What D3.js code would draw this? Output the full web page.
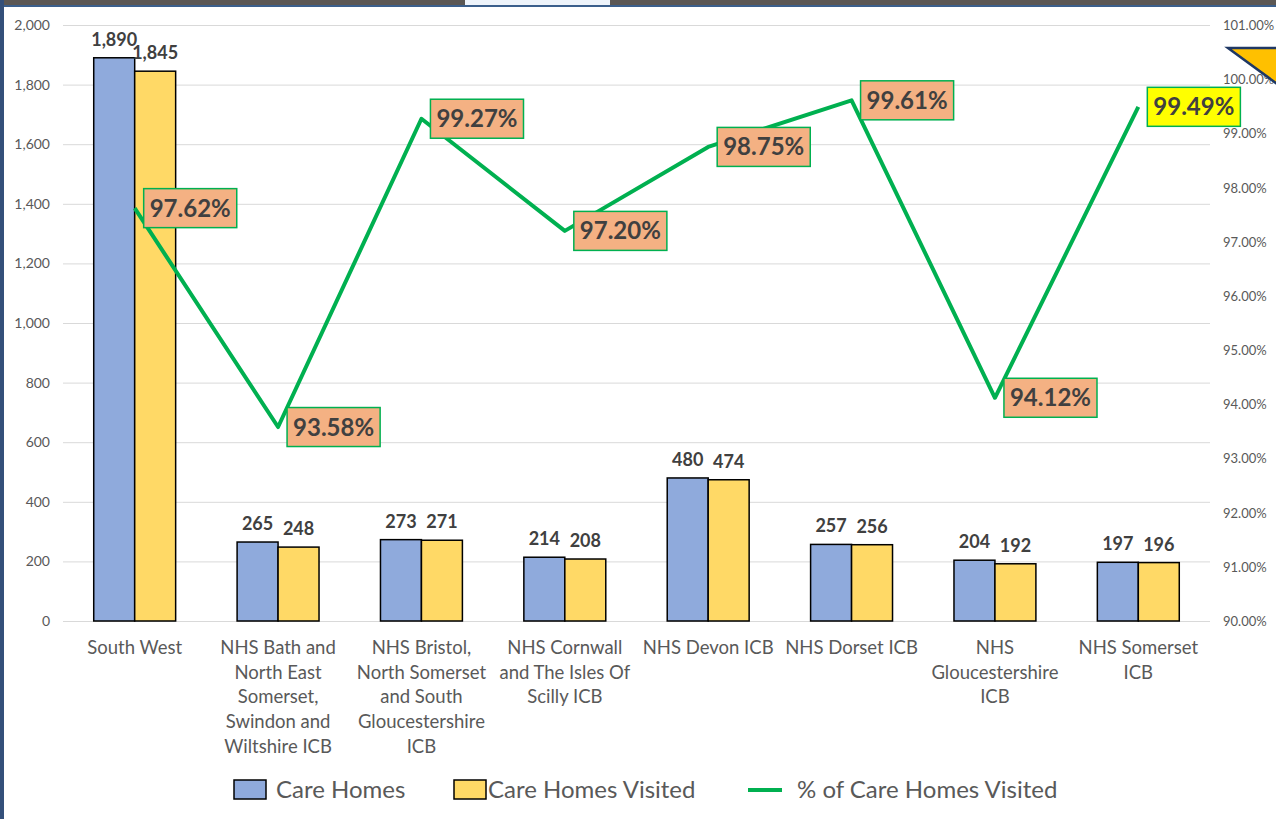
<!DOCTYPE html>
<html>
<head>
<meta charset="utf-8">
<script src="https://cdn.jsdelivr.net/npm/d3@7"></script>
<style>
  body { margin: 0; background: #ffffff; }
  svg { display: block; font-family: Lato, "Open Sans", sans-serif; }
</style>
</head>
<body>
<svg width="1276" height="819"></svg>
<script>
// care homes vs visited, with % visited on the right axis
const categories = [
  ["South West"],
  ["NHS Bath and", "North East", "Somerset,", "Swindon and", "Wiltshire ICB"],
  ["NHS Bristol,", "North Somerset", "and South", "Gloucestershire", "ICB"],
  ["NHS Cornwall", "and The Isles Of", "Scilly ICB"],
  ["NHS Devon ICB"],
  ["NHS Dorset ICB"],
  ["NHS", "Gloucestershire", "ICB"],
  ["NHS Somerset", "ICB"],
];
const careHomes = [1890, 265, 273, 214, 480, 257, 204, 197];
const careHomesVisited = [1845, 248, 271, 208, 474, 256, 192, 196];
const pctVisited = [97.62, 93.58, 99.27, 97.2, 98.75, 99.61, 94.12, 99.49];
const leftTicks = [0, 200, 400, 600, 800, 1000, 1200, 1400, 1600, 1800, 2000];
const rightTicks = [90, 91, 92, 93, 94, 95, 96, 97, 98, 99, 100, 101];
const seriesNames = ["Care Homes", "Care Homes Visited", "% of Care Homes Visited"];

const svg = d3.select("svg");
const textCol = "#595959";
const labelCol = "#404040";
const colors = ["#8FAADC", "#FFD966"];
const lineCol = "#00B050";

// screenshot frame bits
svg.append("rect").attr("x", 0).attr("y", 0).attr("width", 1276).attr("height", 6).attr("fill", "#5b5754");
svg.append("rect").attr("x", 465).attr("y", 0).attr("width", 145).attr("height", 5).attr("fill", "#eef4fb");
svg.append("rect").attr("x", 0).attr("y", 5).attr("width", 1276).attr("height", 2).attr("fill", "#3b5f8c");
svg.append("rect").attr("x", 0).attr("y", 0).attr("width", 4).attr("height", 819).attr("fill", "#34507a");

// plot area
const plotL = 63, plotR = 1210, plotT = 25, plotB = 621;
const idx = d3.range(categories.length);

const x = d3.scaleBand().domain(idx).range([plotL, plotR]);
const xs = d3.scaleBand().domain([0, 1]).range([0, x.bandwidth()]).paddingOuter(0.75);
const y = d3.scaleLinear().domain([0, 2000]).range([plotB, plotT]);
const y2 = d3.scaleLinear().domain([90, 101]).range([plotB, plotT]);

//gridlines
svg.append("g").selectAll("line").data(leftTicks).join("line")
  .attr("x1", plotL).attr("x2", plotR)
  .attr("y1", d => y(d) + 0.5).attr("y2", d => y(d) + 0.5)
  .attr("stroke", "#d9d9d9").attr("stroke-width", 1);

// left axis labels
svg.append("g").selectAll("text").data(leftTicks).join("text")
  .attr("x", 50).attr("y", d => y(d) + 5)
  .attr("text-anchor", "end")
  .attr("font-size", 14).attr("fill", textCol)
  .text(d => d3.format(",")(d));

// right axis labels
svg.append("g").selectAll("text").data(rightTicks).join("text")
  .attr("x", 1223).attr("y", d => y2(d) + 5)
  .attr("font-size", 13).attr("fill", textCol)
  .text(d => d.toFixed(2) + "%");

// bars
const barData = idx.flatMap(i => [
  { i, s: 0, v: careHomes[i] },
  { i, s: 1, v: careHomesVisited[i] },
]);
svg.append("g").selectAll("rect").data(barData).join("rect")
  .attr("x", d => x(d.i) + xs(d.s))
  .attr("width", xs.bandwidth())
  .attr("y", d => y(d.v))
  .attr("height", d => y(0) - y(d.v))
  .attr("fill", d => colors[d.s])
  .attr("stroke", "#000").attr("stroke-width", 1.5);

// bar value labels
svg.append("g").selectAll("text").data(barData).join("text")
  .attr("x", d => x(d.i) + xs(d.s) + xs.bandwidth() / 2)
  .attr("y", d => y(d.v) - 12)
  .attr("text-anchor", "middle")
  .attr("font-size", 18).attr("font-weight", 700).attr("fill", labelCol)
  .text(d => d3.format(",")(d.v));

// category labels
const cat = svg.append("g").selectAll("text").data(idx).join("text")
  .attr("x", i => x(i) + x.bandwidth() / 2)
  .attr("y", 654)
  .attr("text-anchor", "middle")
  .attr("font-size", 18.5).attr("fill", textCol);
cat.selectAll("tspan").data(i => categories[i]).join("tspan")
  .attr("x", function () { return this.parentNode.getAttribute("x"); })
  .attr("dy", (d, j) => (j === 0 ? 0 : 24.7))
  .text(d => d);

// % line
const line = d3.line()
  .x(i => x(i) + x.bandwidth() / 2)
  .y(i => y2(pctVisited[i]));
svg.append("path").datum(idx)
  .attr("d", line)
  .attr("fill", "none")
  .attr("stroke", lineCol).attr("stroke-width", 4)
  .attr("stroke-linejoin", "round");

// % labels in boxes
const lab = svg.append("g").selectAll("g").data(idx).join("g")
  .attr("transform", i => `translate(${x(i) + x.bandwidth() / 2 + 9},${y2(pctVisited[i])})`);
lab.append("rect")
  .attr("fill", i => (i === idx.length - 1 ? "#FFFF00" : "#F4B183"))
  .attr("stroke", lineCol).attr("stroke-width", 1.5);
lab.append("text")
  .attr("x", 6).attr("y", 8.5)
  .attr("font-size", 24).attr("font-weight", 700).attr("fill", labelCol)
  .text(i => pctVisited[i].toFixed(2) + "%");
lab.each(function () {
  const g = d3.select(this);
  const w = g.select("text").node().getComputedTextLength();
  g.select("rect").attr("x", 0).attr("y", -19.5).attr("width", w + 12).attr("height", 39);
});

// legend
const leg = svg.append("g");
leg.append("rect").attr("x", 234).attr("y", 780).attr("width", 32).attr("height", 19)
  .attr("fill", colors[0]).attr("stroke", "#000").attr("stroke-width", 1.5);
leg.append("text").attr("x", 276).attr("y", 798).attr("font-size", 24).attr("fill", textCol).text(seriesNames[0]);
leg.append("rect").attr("x", 454).attr("y", 780).attr("width", 32).attr("height", 19)
  .attr("fill", colors[1]).attr("stroke", "#000").attr("stroke-width", 1.5);
leg.append("text").attr("x", 488).attr("y", 798).attr("font-size", 24).attr("fill", textCol).text(seriesNames[1]);
leg.append("line").attr("x1", 748).attr("x2", 782).attr("y1", 790).attr("y2", 790)
  .attr("stroke", lineCol).attr("stroke-width", 4);
leg.append("text").attr("x", 797).attr("y", 798).attr("font-size", 24).attr("fill", textCol).text(seriesNames[2]);

// slide decoration top right
svg.append("path")
  .attr("d", "M1228,48 L1280,48 L1280,86 Z")
  .attr("fill", "#FFC000").attr("stroke", "#1F3864").attr("stroke-width", 2.5);
</script>
</body>
</html>
